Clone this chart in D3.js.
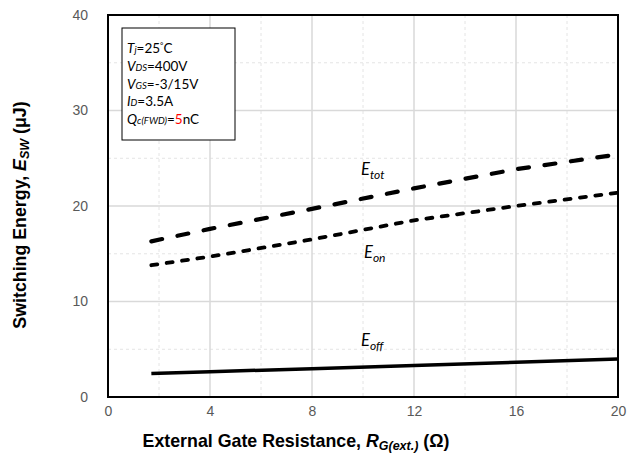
<!DOCTYPE html>
<html>
<head>
<meta charset="utf-8">
<script src="https://cdn.jsdelivr.net/npm/d3@7"></script>
<style>
  html, body { margin: 0; padding: 0; background: #fff; }
  svg { display: block; }
</style>
</head>
<body>
<svg id="chart" width="627" height="453"></svg>
<script>
// Gate resistance sample points (Ω)
const rg = [1.7, 4, 8, 12, 16, 20];
// Switching energies (μJ)
const eTot = [16.3, 17.6, 19.7, 21.85, 23.85, 25.4];
const eOn  = [13.8, 14.7, 16.5, 18.5, 20.0, 21.4];
const eOff = [2.45, 2.64, 2.97, 3.3, 3.64, 3.98];

const xTicks = [0, 4, 8, 12, 16, 20];
const yTicks = [0, 10, 20, 30, 40];
const xMinor = [2, 6, 10, 14, 18];
const yMinor = [5, 15, 25, 35];

const svg = d3.select("#chart");
const pL = 108, pR = 618, pT = 15, pB = 397;

const x = d3.scaleLinear().domain([0, 20]).range([pL, pR]);
const y = d3.scaleLinear().domain([0, 40]).range([pB, pT]);

// minor grid (dashed)
const grid = svg.append("g");
grid.selectAll(".xm").data(xMinor).join("line")
  .attr("x1", d => x(d)).attr("x2", d => x(d)).attr("y1", pT).attr("y2", pB)
  .attr("stroke", "#e4e4e4").attr("stroke-width", 1).attr("stroke-dasharray", "3,3");
grid.selectAll(".ym").data(yMinor).join("line")
  .attr("y1", d => y(d)).attr("y2", d => y(d)).attr("x1", pL).attr("x2", pR)
  .attr("stroke", "#e4e4e4").attr("stroke-width", 1).attr("stroke-dasharray", "3,3");
// major grid (solid)
grid.selectAll(".xM").data(xTicks).join("line")
  .attr("x1", d => x(d)).attr("x2", d => x(d)).attr("y1", pT).attr("y2", pB)
  .attr("stroke", "#d9d9d9").attr("stroke-width", 1.5);
grid.selectAll(".yM").data(yTicks).join("line")
  .attr("y1", d => y(d)).attr("y2", d => y(d)).attr("x1", pL).attr("x2", pR)
  .attr("stroke", "#d9d9d9").attr("stroke-width", 1.5);

// axes (tick labels only)
const xAxis = svg.append("g").attr("transform", `translate(0,${pB})`)
  .call(d3.axisBottom(x).tickValues(xTicks).tickSize(0).tickPadding(9));
const yAxis = svg.append("g").attr("transform", `translate(${pL},0)`)
  .call(d3.axisLeft(y).tickValues(yTicks).tickSize(0).tickPadding(20));
[xAxis, yAxis].forEach(a => {
  a.select(".domain").remove();
  a.selectAll("text").attr("font-family", "Liberation Sans, Arial, sans-serif")
    .attr("font-size", 14).attr("fill", "#595959");
});

// curves
const line = d3.line().x((d, i) => x(rg[i])).y(d => y(d));
svg.append("path").datum(eTot).attr("d", line).attr("fill", "none")
  .attr("stroke", "#000").attr("stroke-width", 4.2)
  .attr("stroke-linecap", "round").attr("stroke-dasharray", "11,15.7");
svg.append("path").datum(eOn).attr("d", line).attr("fill", "none")
  .attr("stroke", "#000").attr("stroke-width", 3.8)
  .attr("stroke-linecap", "round").attr("stroke-dasharray", "6,9.5");
svg.append("path").datum(eOff).attr("d", line).attr("fill", "none")
  .attr("stroke", "#000").attr("stroke-width", 3.5);

// plot frame
svg.append("rect").attr("x", pL).attr("y", pT)
  .attr("width", pR - pL).attr("height", pB - pT)
  .attr("fill", "none").attr("stroke", "#000").attr("stroke-width", 2);

// curve labels
const labFont = "Lato, 'Open Sans', sans-serif";
function curveLabel(px, py, sub) {
  const t = svg.append("text").attr("x", px).attr("y", py)
    .attr("font-family", labFont).attr("font-size", 16.5).attr("font-style", "italic");
  t.append("tspan").text("E");
  t.append("tspan").attr("dy", 4).attr("font-size", 12).text(sub);
}
curveLabel(361, 175, "tot");
curveLabel(364, 258, "on");
curveLabel(361, 346, "off");

// conditions box
svg.append("rect").attr("x", 122).attr("y", 28).attr("width", 113).attr("height", 112)
  .attr("fill", "#fff").attr("stroke", "#000").attr("stroke-width", 1);
// each run: [text, style, baseline shift]
const cond = [
  [["T", "i", 0], ["j", "si", 0], ["=25", "", 0], ["°", "sup", -5], ["C", "", 5]],
  [["V", "i", 0], ["DS", "si", 0], ["=400V", "", 0]],
  [["V", "i", 0], ["GS", "si", 0], ["=-3/15V", "", 0]],
  [["I", "i", 0], ["D", "si", 0], ["=3.5A", "", 0]],
  [["Q", "i", 0], ["c(FWD)", "si", 0], ["=", "", 0], ["5", "red", 0], ["nC", "", 0]]
];
cond.forEach((row, r) => {
  const t = svg.append("text").attr("x", 127).attr("y", 53 + r * 17.8)
    .attr("font-family", labFont).attr("font-size", 13.5).attr("fill", "#000");
  row.forEach(([s, k, dy]) => {
    const sp = t.append("tspan").text(s);
    if (dy) sp.attr("dy", dy);
    if (k === "i") sp.attr("font-style", "italic");
    if (k === "si") sp.attr("font-style", "italic").attr("font-size", 9.5);
    if (k === "sup") sp.attr("font-size", 8);
    if (k === "red") sp.attr("fill", "#ff0000");
  });
});

// axis titles
const titleFont = "Liberation Sans, Arial, sans-serif";
const xt = svg.append("text").attr("x", 296).attr("y", 447).attr("text-anchor", "middle")
  .attr("font-family", titleFont).attr("font-size", 17.8).attr("font-weight", "bold");
xt.append("tspan").text("External Gate Resistance, ");
xt.append("tspan").attr("font-style", "italic").text("R");
xt.append("tspan").attr("font-style", "italic").attr("font-size", 12.5).attr("dy", 3).text("G(ext.)");
xt.append("tspan").attr("dy", -3).text(" (Ω)");

const yt = svg.append("text").attr("transform", "translate(26,215) rotate(-90)")
  .attr("text-anchor", "middle")
  .attr("font-family", titleFont).attr("font-size", 17.8).attr("font-weight", "bold");
yt.append("tspan").text("Switching Energy, ");
yt.append("tspan").attr("font-style", "italic").text("E");
yt.append("tspan").attr("font-style", "italic").attr("font-size", 12.5).attr("dy", 3).text("SW");
yt.append("tspan").attr("dy", -3).text(" (μJ)");
</script>
</body>
</html>
